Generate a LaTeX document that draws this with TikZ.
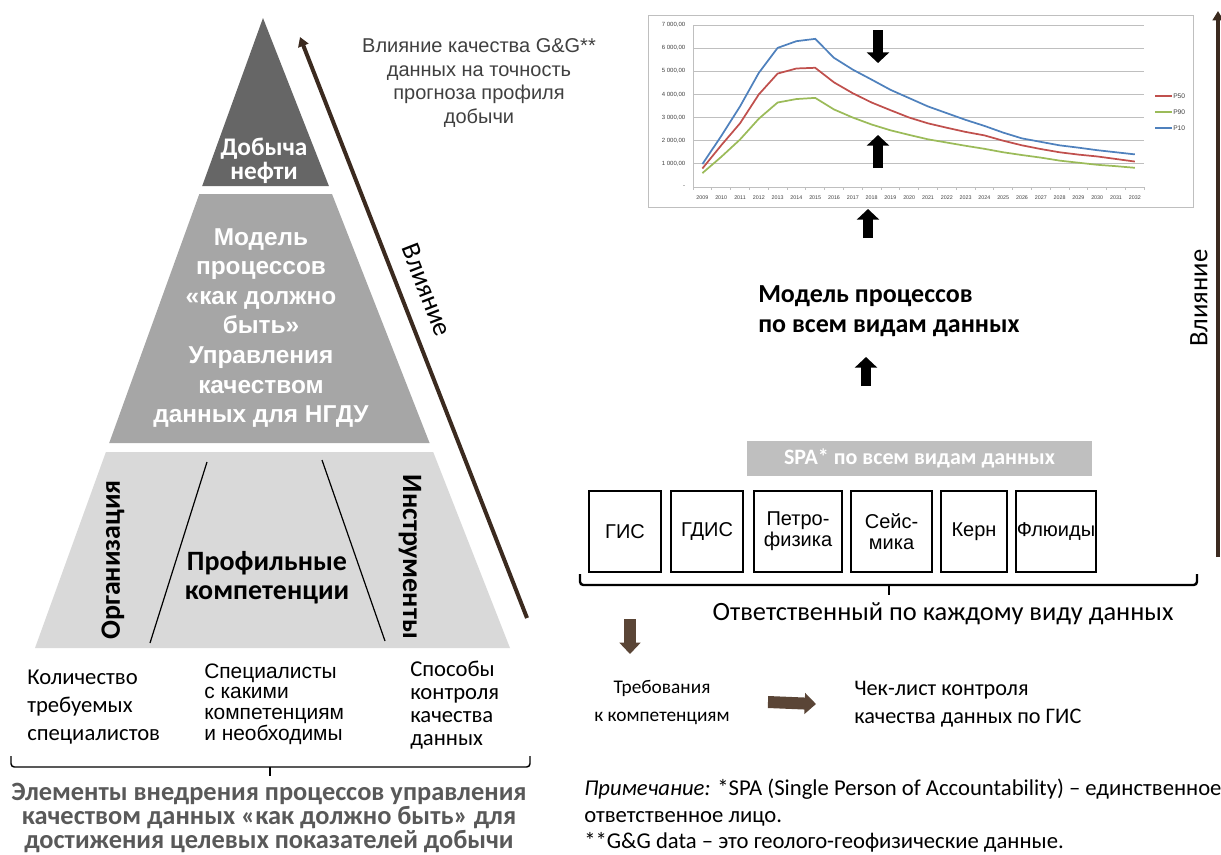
\documentclass[tikz,border=0pt]{standalone}
\usepackage{fontspec}
\setmainfont{Carlito}
\newfontfamily\arialfont{Liberation Sans}
\usetikzlibrary{arrows.meta}

\definecolor{pyrdark}{HTML}{666666}
\definecolor{pyrmid}{HTML}{A6A6A6}
\definecolor{pyrlight}{HTML}{D9D9D9}
\definecolor{inflbrown}{HTML}{3B2A1F}
\definecolor{arrbrown}{HTML}{5A4536}
\definecolor{txtgray}{HTML}{404040}
\definecolor{capgray}{HTML}{595959}
\definecolor{spagray}{HTML}{BFBFBF}
\definecolor{gridgray}{HTML}{BFBFBF}
\definecolor{p10blue}{HTML}{4F81BD}
\definecolor{p50red}{HTML}{C0504D}
\definecolor{p90green}{HTML}{9BBB59}

\begin{document}
\begin{tikzpicture}[x=0.75pt,y=0.75pt,yscale=-1,xscale=1,
    lbl/.style={inner sep=0.75pt, align=center},
    pyrtxt/.style={lbl, text=white},
    divline/.style={draw=black, line width=0.9pt},
    inflarrow/.style={draw=inflbrown, line width=3pt, -{Triangle[width=8pt,length=7pt]}},
    blkarrow/.style={draw=black, line width=7.5pt, -{Triangle[width=16.5pt,length=8pt]}},
    brnarrow/.style={draw=arrbrown, line width=9pt, -{Triangle[width=15.5pt,length=8.5pt]}},
    datbox/.style={draw=black, line width=0.8pt, minimum height=60.75pt, inner sep=0pt, align=center, font=\arialfont\fontsize{15}{15.5}\selectfont},
    bracket/.style={draw=black, rounded corners=2.5pt},
    gridln/.style={draw=gridgray, line width=0.6pt},
    ylab/.style={inner sep=0pt, anchor=east, font=\arialfont\fontsize{4.5}{4.5}\selectfont, text=txtgray},
    xlab/.style={inner sep=0pt, font=\arialfont\fontsize{4}{4}\selectfont, text=txtgray},
  ]
  \useasboundingbox (0,0) rectangle (1221,854);

  %Shape: Triangle [top of pyramid]
  \fill[pyrdark] (263,18) -- (328.9,186) -- (202.2,186) -- cycle;
  %Shape: Trapezoid [middle]
  \fill[pyrmid] (199.3,194) -- (332.0,194) -- (429.6,443) -- (109.2,443) -- cycle;
  %Shape: Trapezoid [bottom]
  \fill[pyrlight] (105.9,452) -- (433.2,452) -- (510,648) -- (35,648) -- cycle;

  %Straight Lines [dividers]
  \coordinate (dvLt) at (207,462);
  \coordinate (dvLb) at (150,643);
  \coordinate (dvRt) at (322,460);
  \coordinate (dvRb) at (385,641);
  \draw[divline] (dvLt) -- (dvLb);
  \draw[divline] (dvRt) -- (dvRb);

  % Text Node
  \node[pyrtxt, font=\bfseries\fontsize{19}{18}\selectfont] (oil) at (264,161) {Добыча\\нефти};
  % Text Node
  \node[pyrtxt, font=\arialfont\bfseries\fontsize{18.3}{22.2}\selectfont] (model) at (261,328) {Модель\\процессов\\«как должно\\быть»\\Управления\\качеством\\данных для НГДУ};
  % Text Node
  \node[lbl, font=\bfseries\fontsize{21}{21.8}\selectfont] (profcomp) at (267,578) {Профильные\\компетенции};
  % Text Node
  \node[lbl, rotate=90, font=\bfseries\fontsize{21}{21}\selectfont] (org) at (113,560) {Организация};
  % Text Node
  \node[lbl, rotate=-90, font=\bfseries\fontsize{21}{21}\selectfont] (tools) at (410,557) {Инструменты};

  % Text Node
  \node[lbl, anchor=west, align=left, font=\fontsize{17}{21}\selectfont] (qty) at (26,707) {Количество\\требуемых\\специалистов};
  % Text Node
  \node[lbl, anchor=west, align=left, font=\arialfont\fontsize{15.7}{15.4}\selectfont] (spec) at (203,704) {Специалисты\\с какими\\компетенциям\\и необходимы};
  % Text Node
  \node[lbl, anchor=west, align=left, font=\fontsize{17}{17.2}\selectfont] (ctrl) at (409,705) {Способы\\контроля\\качества\\данных};

  %Bracket [left]
  \coordinate (brLa) at (11,756);
  \coordinate (brLb) at (530,756);
  \coordinate (brLm) at (270,767);
  \coordinate (brLt) at (270,776);
  \draw[bracket, line width=1.1pt] (brLa) |- (brLm) -| (brLb);
  \draw[draw=black, line width=1.1pt] (brLm) -- (brLt);
  % Text Node
  \node[lbl, text=capgray, font=\bfseries\fontsize{19.8}{18}\selectfont] (elems) at (269,818) {Элементы внедрения процессов управления\\качеством данных «как должно быть» для\\достижения целевых показателей добычи};

  %Arrow [influence, pyramid]
  \coordinate (inflB) at (527,618);
  \coordinate (inflT) at (300,37);
  \draw[inflarrow] (inflB) -- (inflT);
  % Text Node
  \node[lbl, rotate=-68.7, font=\fontsize{20}{20}\selectfont] (infl) at (427,290) {Влияние};

  % Text Node
  \node[lbl, text=txtgray, font=\arialfont\fontsize{15}{17.6}\selectfont] (gg) at (479,83) {Влияние качества G\&G**\\данных на точность\\прогноза профиля\\добычи};

  %Chart frame
  \node[draw=gridgray, line width=0.6pt, minimum width=408.75pt, minimum height=144pt, inner sep=0pt] (chart) at (920.5,111) {};
  \begin{scope}[shift={(702.4,187)}, xscale=18.8, yscale=-0.02314]
    \foreach \k in {1,...,7}
      \draw[gridln] (-0.5,\k*1000) -- (23.5,\k*1000);
    \draw[gridln] (-0.5,0) -- (23.5,0);
    \draw[gridln] (-0.5,0) -- (-0.5,7000);
    \foreach \i in {0,...,24}
      \draw[gridln] (\i-0.5,0) -- (\i-0.5,-130);
    \foreach \k in {1,...,7}
      \node[ylab] at (-0.9,\k*1000) {\k\ 000,00};
    \node[ylab] at (-0.9,0) {-};
    \foreach \i [evaluate=\i as \yr using int(2009+\i)] in {0,...,23}
      \node[xlab] at (\i,-480) {\yr};
    %P10
    \draw[p10blue, line width=1.3pt] plot coordinates {(0,990) (1,2200) (2,3480) (3,4930) (4,6010) (5,6300) (6,6400) (7,5580) (8,5070) (9,4640) (10,4200) (11,3840) (12,3480) (13,3190) (14,2900) (15,2640) (16,2350) (17,2100) (18,1950) (19,1800) (20,1700) (21,1590) (22,1500) (23,1410)};
    %P50
    \draw[p50red, line width=1.3pt] plot coordinates {(0,800) (1,1800) (2,2750) (3,4000) (4,4900) (5,5120) (6,5150) (7,4520) (8,4050) (9,3650) (10,3320) (11,3000) (12,2750) (13,2560) (14,2380) (15,2230) (16,2000) (17,1800) (18,1640) (19,1500) (20,1400) (21,1320) (22,1210) (23,1100)};
    %P90
    \draw[p90green, line width=1.3pt] plot coordinates {(0,600) (1,1300) (2,2050) (3,2950) (4,3650) (5,3800) (6,3850) (7,3350) (8,3000) (9,2700) (10,2450) (11,2250) (12,2060) (13,1920) (14,1780) (15,1650) (16,1500) (17,1380) (18,1270) (19,1140) (20,1050) (21,960) (22,900) (23,830)};
  \end{scope}
  %Legend
  \foreach \nm/\cl/\yy in {P50/p50red/96, P90/p90green/112, P10/p10blue/128} {
    \draw[\cl, line width=1.3pt] (1155,\yy) -- (1172,\yy);
    \node[xlab, anchor=west, font=\arialfont\fontsize{5}{5}\selectfont] at (1173,\yy) {\nm};
  }
  %Arrows in chart
  \coordinate (dnA) at (878,30);
  \coordinate (dnB) at (878,63);
  \draw[blkarrow] (dnA) -- (dnB);
  \coordinate (upA) at (878,168);
  \coordinate (upB) at (878,135);
  \draw[blkarrow] (upA) -- (upB);

  % Text Node
  \node[lbl, anchor=west, align=left, font=\bfseries\fontsize{19.5}{22.5}\selectfont] (procmod) at (757,311) {Модель процессов\\по всем видам данных};
  \coordinate (chUpA) at (868,238);
  \coordinate (chUpB) at (868,209);
  \draw[blkarrow] (chUpA) -- (chUpB);
  \coordinate (pmUpA) at (866,386);
  \coordinate (pmUpB) at (866,357);
  \draw[blkarrow] (pmUpA) -- (pmUpB);

  %Arrow [influence, right]
  \coordinate (inflRB) at (1218,557);
  \coordinate (inflRT) at (1218,11);
  \draw[inflarrow] (inflRB) -- (inflRT);
  % Text Node
  \node[lbl, rotate=90, font=\fontsize{20}{20}\selectfont] (inflR) at (1199,298) {Влияние};

  %SPA bar
  \node[fill=spagray, minimum width=258.75pt, minimum height=26.25pt, inner sep=0pt, text=white, font=\bfseries\fontsize{16.5}{16.5}\selectfont] (spa) at (919.5,458.5) {SPA* по всем видам данных};

  %Data boxes
  \node[datbox, minimum width=54pt] (gis) at (625,531.5) {ГИС};
  \node[datbox, minimum width=54pt] (gdis) at (707,531.5) {ГДИС};
  \node[datbox, minimum width=66pt] (petro) at (798,531.5) {Петро-\\физика};
  \node[datbox, minimum width=60.75pt] (seis) at (891.5,531.5) {Сейс-\\мика};
  \node[datbox, minimum width=49.5pt] (core) at (974,531.5) {Керн};
  \node[datbox, minimum width=60pt] (fluid) at (1056,531.5) {Флюиды};

  %Bracket [right]
  \coordinate (brRa) at (580,574);
  \coordinate (brRb) at (1197,574);
  \coordinate (brRm) at (889,585);
  \coordinate (brRt) at (889,595);
  \draw[bracket, line width=1.8pt] (brRa) |- (brRm) -| (brRb);
  \draw[draw=black, line width=1.8pt] (brRm) -- (brRt);
  % Text Node
  \node[lbl, font=\fontsize{19.8}{19.8}\selectfont] (resp) at (943,614) {Ответственный по каждому виду данных};

  %Brown arrows
  \coordinate (rqA) at (630,619);
  \coordinate (rqB) at (630,654);
  \draw[brnarrow] (rqA) -- (rqB);
  % Text Node
  \node[lbl, font=\fontsize{14.5}{21}\selectfont] (req) at (662,702) {Требования\\к компетенциям};
  % Text Node
  \node[lbl, anchor=west, align=left, font=\fontsize{16.7}{21}\selectfont] (check) at (853,704) {Чек-лист контроля\\качества данных по ГИС};
  \draw[brnarrow] (req.east -| 768,0) -- (check.west -| 816,0);

  % Text Node
  \node[lbl, anchor=west, align=left, font=\fontsize{17}{19.9}\selectfont] (note) at (583,816) {\textit{Примечание:} *SPA (Single Person of Accountability) – единственное\\ответственное лицо.\\**G\&G data – это геолого-геофизические данные.};
\end{tikzpicture}
\end{document}
